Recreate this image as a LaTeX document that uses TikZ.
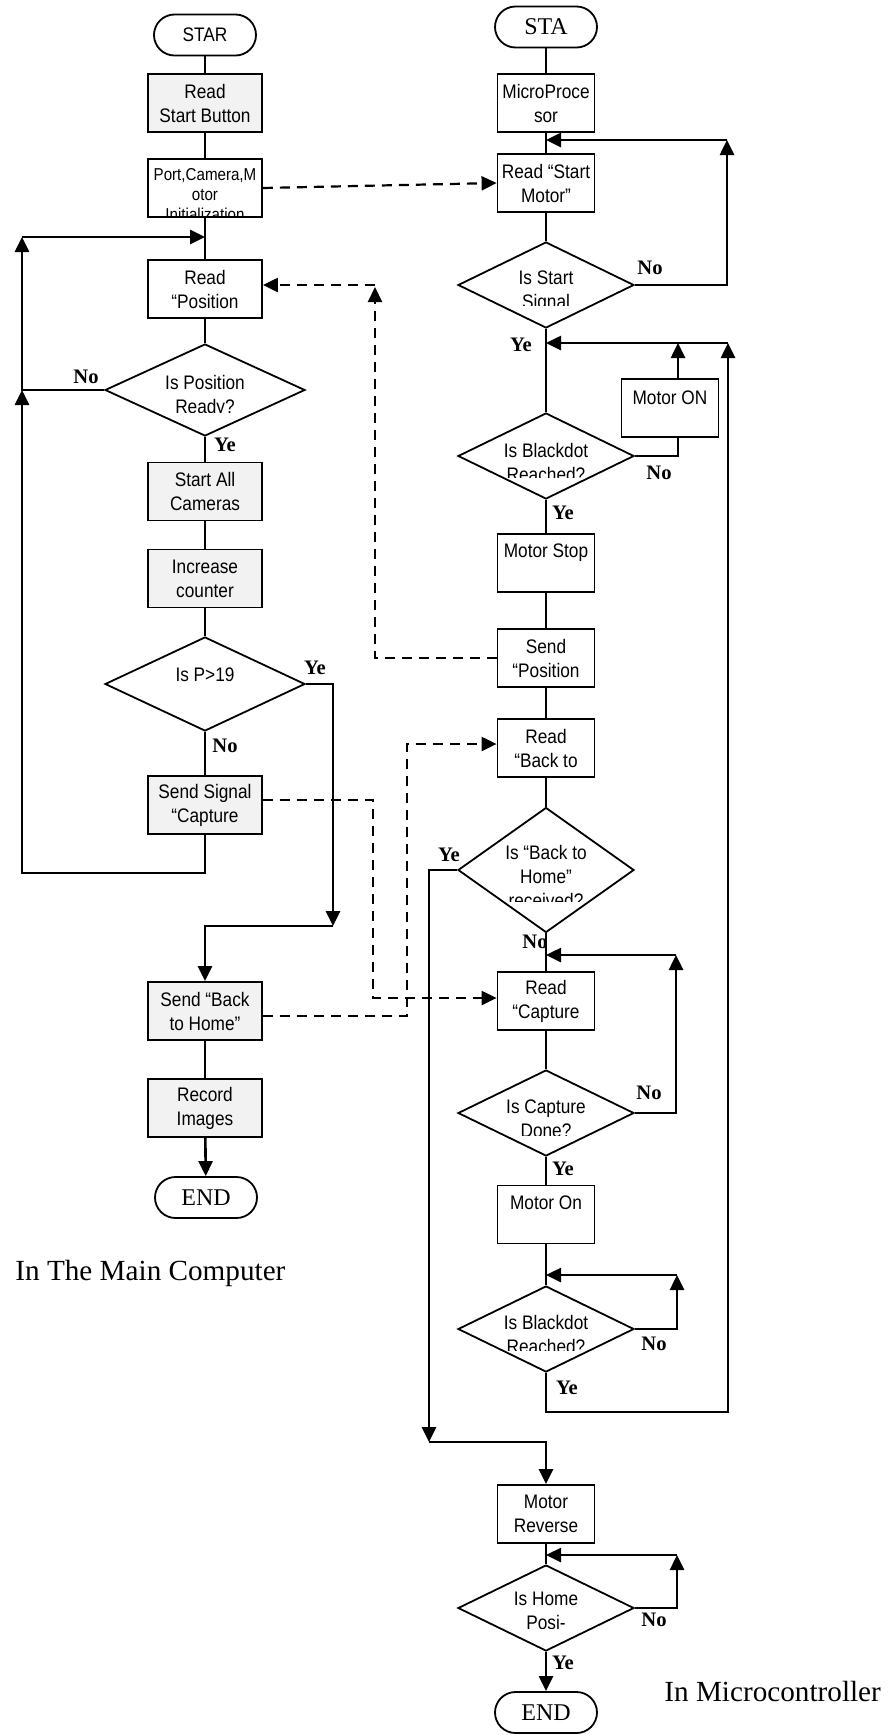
\documentclass[tikz,border=0pt]{standalone}
\usepackage{fontspec}
\setmainfont{Liberation Serif}
\newfontfamily\boxfont{Liberation Sans}[FakeStretch=0.88]
\usetikzlibrary{arrows.meta,shapes.geometric,calc}
\definecolor{boxgray}{RGB}{242,242,242}
\begin{document}
\begin{tikzpicture}[x=0.5pt,y=-0.5pt,
  base/.style={draw, line width=0.9pt, inner sep=0pt, align=center, font=\boxfont\fontsize{9.8}{12}\selectfont},
  pbox/.style={base, rectangle, minimum width=57pt, minimum height=29pt},
  rbox/.style={base, rectangle, minimum width=48.5pt, minimum height=29pt},
  gbox/.style={pbox, fill=boxgray},
  term/.style={base, rounded corners=10.25pt, minimum width=51pt, minimum height=20.5pt},
  serifterm/.style={term, font=\fontsize{12}{14}\selectfont},
  dia/.style={base, diamond, minimum width=88pt, minimum height=43pt},
  btext/.style={inner sep=0pt, align=center, font=\boxfont\fontsize{9.8}{12}\selectfont},
  lab/.style={inner sep=0pt, font=\bfseries\fontsize{10.3}{12}\selectfont},
  conn/.style={line width=1.3pt},
  arr/.style={conn, -{Triangle[length=7.5pt,width=7pt]}},
  dsh/.style={line width=1.1pt, dash pattern=on 5pt off 3.5pt},
  darr/.style={dsh, -{Triangle[length=7.5pt,width=7pt]}},
  capt/.style={inner sep=0pt, anchor=base west, font=\fontsize{14.6}{17}\selectfont}
]
\useasboundingbox (0,0) rectangle (889,1735);

% ---------------- left column ----------------
\node[term] (star) at (205,35) {STAR};
\node[gbox] (rsb) at (205,103) {Read\\Start Button};
\node[pbox] (port) at (205,188) {};
\begin{scope}
  \clip (148,160) rectangle (261,216);
  \node[btext, anchor=north, font=\boxfont\fontsize{8.6}{10}\selectfont] (tport) at (205,168) {Port,Camera,M\\otor\\Initialization};
\end{scope}
\node[pbox] (rpos) at (205,289) {Read\\“Position};
\node[dia, minimum width=100pt, minimum height=46pt] (dpos) at (205,390) {};
\begin{scope}
  \clip (104,343) rectangle (305,412);
  \node[btext, anchor=north] (tdpos) at (205,375) {Is Position\\Ready?};
\end{scope}
\node[gbox] (sac) at (205,491.5) {Start All\\Cameras};
\node[gbox] (inc) at (205,578.5) {Increase\\counter};
\node[dia, minimum width=100pt, minimum height=47pt] (dp19) at (205,684) {};
\node[btext, anchor=north] (tdp19) at (205,667) {Is P>19};
\node[gbox] (ssc) at (205,805) {Send Signal\\“Capture};
\node[gbox] (sbh) at (205,1011) {Send “Back\\to Home”};
\node[gbox] (rec) at (205,1108) {Record\\Images};
\node[serifterm] (end1) at (206,1197.5) {END};
\node[capt] (cap1) at (15,1280) {In The Main Computer};

\draw[conn] (star) -- (rsb);
\draw[conn] (rsb) -- (port);
\draw[conn] (port) -- (rpos);
\draw[conn] (rpos) -- (dpos);
\draw[conn] (dpos) -- (sac);
\draw[conn] (sac) -- (inc);
\draw[conn] (inc) -- (dp19);
\draw[conn] (dp19) -- (ssc);
\draw[conn] (sbh) -- (rec);
\draw[arr] (rec) -- (end1);

\coordinate (lb) at (205,873);
\coordinate (ll) at (22,873);
\coordinate (lno) at (22,390);
\coordinate (ltop) at (22,237);
\coordinate (lin) at (205,237);
\draw[arr] (ssc.south) -- (lb) -- (ll) -- (lno);
\draw[arr] (dpos.west) -- (lno) -- (ltop);
\draw[arr] (ltop) -- (lin);

\coordinate (yr) at (333,684);
\coordinate (yd) at (333,926);
\coordinate (yl) at (205,926);
\draw[arr] (dp19.east) -- (yr) -- (yd);
\draw[arr] (yd) -- (yl) -- (sbh.north);

\node[lab] (l1) at (86,377) {No};
\node[lab] (l2) at (225,445) {Ye};
\node[lab] (l3) at (315,668) {Ye};
\node[lab] (l4) at (225,746) {No};

% ---------------- right column ----------------
\node[serifterm] (sta) at (546,27) {STA};
\node[rbox] (mp) at (546,103) {MicroProce\\sor};
\node[rbox] (rsm) at (546,183) {Read “Start\\Motor”};
\node[dia] (dss) at (546,285) {};
\begin{scope}
  \clip (458,240) rectangle (635,305);
  \node[btext, anchor=north] (tdss) at (546,270) {Is Start\\Signal};
\end{scope}
\node[dia] (dbd1) at (546,456) {};
\begin{scope}
  \clip (458,410) rectangle (635,477);
  \node[btext, anchor=north] (tdbd1) at (546,443) {Is Blackdot\\Reached?};
\end{scope}
\node[rbox] (mon) at (670,408) {};
\node[btext, anchor=north] (tmon) at (670,390) {Motor ON};
\node[rbox] (mst) at (546,563) {};
\node[btext, anchor=north] (tmst) at (546,543) {Motor Stop};
\node[rbox] (spos) at (546,658) {Send\\“Position};
\node[rbox] (rbt) at (546,748) {Read\\“Back to};
\node[dia, minimum height=62.5pt] (dbh) at (546,870) {};
\begin{scope}
  \clip (458,805) rectangle (635,901);
  \node[btext, anchor=north] (tdbh) at (546,845) {Is “Back to\\Home”\\received?};
\end{scope}
\node[rbox] (rcap) at (546,1001) {Read\\“Capture};
\node[dia] (dcd) at (546,1113) {};
\begin{scope}
  \clip (458,1068) rectangle (635,1135);
  \node[btext, anchor=north] (tdcd) at (546,1099) {Is Capture\\Done?};
\end{scope}
\node[rbox] (mon2) at (546,1214.5) {};
\node[btext, anchor=north] (tmon2) at (546,1195) {Motor On};
\node[dia] (dbd2) at (546,1329) {};
\begin{scope}
  \clip (458,1284) rectangle (635,1350);
  \node[btext, anchor=north] (tdbd2) at (546,1315) {Is Blackdot\\Reached?};
\end{scope}
\node[rbox] (mrev) at (546,1514) {Motor\\Reverse};
\node[dia] (dhp) at (546,1608) {};
\begin{scope}
  \clip (458,1562) rectangle (635,1628);
  \node[btext, anchor=north] (tdhp) at (546,1592) {Is Home\\Posi-};
\end{scope}
\node[serifterm] (end2) at (546,1712.5) {END};
\node[capt] (cap2) at (664,1701) {In Microcontroller};

\draw[conn] (sta) -- (mp);
\draw[conn] (mp) -- (rsm);
\draw[conn] (rsm) -- (dss);
\draw[conn] (dss) -- (dbd1);
\draw[conn] (dbd1) -- (mst);
\draw[conn] (mst) -- (spos);
\draw[conn] (spos) -- (rbt);
\draw[conn] (rbt) -- (dbh);
\draw[conn] (dbh) -- (rcap);
\draw[conn] (rcap) -- (dcd);
\draw[conn] (dcd) -- (mon2);
\draw[conn] (mon2) -- (dbd2);
\draw[conn] (mrev) -- (dhp);
\draw[arr] (dhp) -- (end2);

% start signal loop
\coordinate (s1) at (727,285);
\coordinate (s2) at (727,140);
\coordinate (s3) at (546,140);
\draw[arr] (dss.east) -- (s1) -- (s2);
\draw[arr] (s2) -- (s3);

% blackdot 1 / motor on loop
\coordinate (b1) at (678,456);
\coordinate (b3) at (678,343);
\draw[conn] (dbd1.east) -- (b1) -- (b1 |- mon.south);
\draw[arr] (b1 |- mon.north) -- (b3);
\coordinate (f1) at (728,343);
\coordinate (f2) at (546,343);
\draw[arr] (f1) -- (f2);

% big return loop
\coordinate (g1) at (546,1412);
\coordinate (g2) at (728,1412);
\draw[arr] (dbd2.south) -- (g1) -- (g2) -- (f1);

% back to home yes
\coordinate (h1) at (429,870);
\coordinate (h2) at (429,1442);
\coordinate (h3) at (546,1442);
\draw[arr] (dbh.west) -- (h1) -- (h2);
\draw[arr] (h2) -- (h3) -- (mrev.north);

% capture loop
\coordinate (c1) at (676,1113);
\coordinate (c2) at (676,955);
\coordinate (c3) at (546,955);
\draw[arr] (dcd.east) -- (c1) -- (c2);
\draw[arr] (c2) -- (c3);

% blackdot 2 loop
\coordinate (d1) at (677,1329);
\coordinate (d2) at (677,1275);
\coordinate (d3) at (546,1275);
\draw[arr] (dbd2.east) -- (d1) -- (d2);
\draw[arr] (d2) -- (d3);

% home loop
\coordinate (e1) at (677,1608);
\coordinate (e2) at (677,1555);
\coordinate (e3) at (546,1555);
\draw[arr] (dhp.east) -- (e1) -- (e2);
\draw[arr] (e2) -- (e3);

\node[lab] (r1) at (650,268) {No};
\node[lab] (r2) at (521,345) {Ye};
\node[lab] (r3) at (659,473) {No};
\node[lab] (r4) at (563,513) {Ye};
\node[lab] (r5) at (449,855) {Ye};
\node[lab] (r6) at (535,942) {No};
\node[lab] (r7) at (649,1093) {No};
\node[lab] (r8) at (563,1169) {Ye};
\node[lab] (r9) at (654,1344) {No};
\node[lab] (r10) at (567,1388) {Ye};
\node[lab] (r11) at (654,1620) {No};
\node[lab] (r12) at (563,1663) {Ye};

% ---------------- dashed links ----------------
\draw[darr] (port.east) -- (rsm.west);

\coordinate (p1) at (375,658);
\coordinate (p2) at (375,287);
\coordinate (p3) at (375,285);
\draw[darr] (spos.west) -- (p1) -- (p2);
\draw[darr] (p3) -- (p3 -| rpos.east);

\coordinate (q1) at (373,800);
\coordinate (q2) at (373,998);
\draw[darr] (q1 -| ssc.east) -- (q1) -- (q2) -- (q2 -| rcap.west);

\coordinate (w1) at (407,1016);
\coordinate (w2) at (407,744);
\draw[darr] (w1 -| sbh.east) -- (w1) -- (w2) -- (w2 -| rbt.west);
\end{tikzpicture}
\end{document}
